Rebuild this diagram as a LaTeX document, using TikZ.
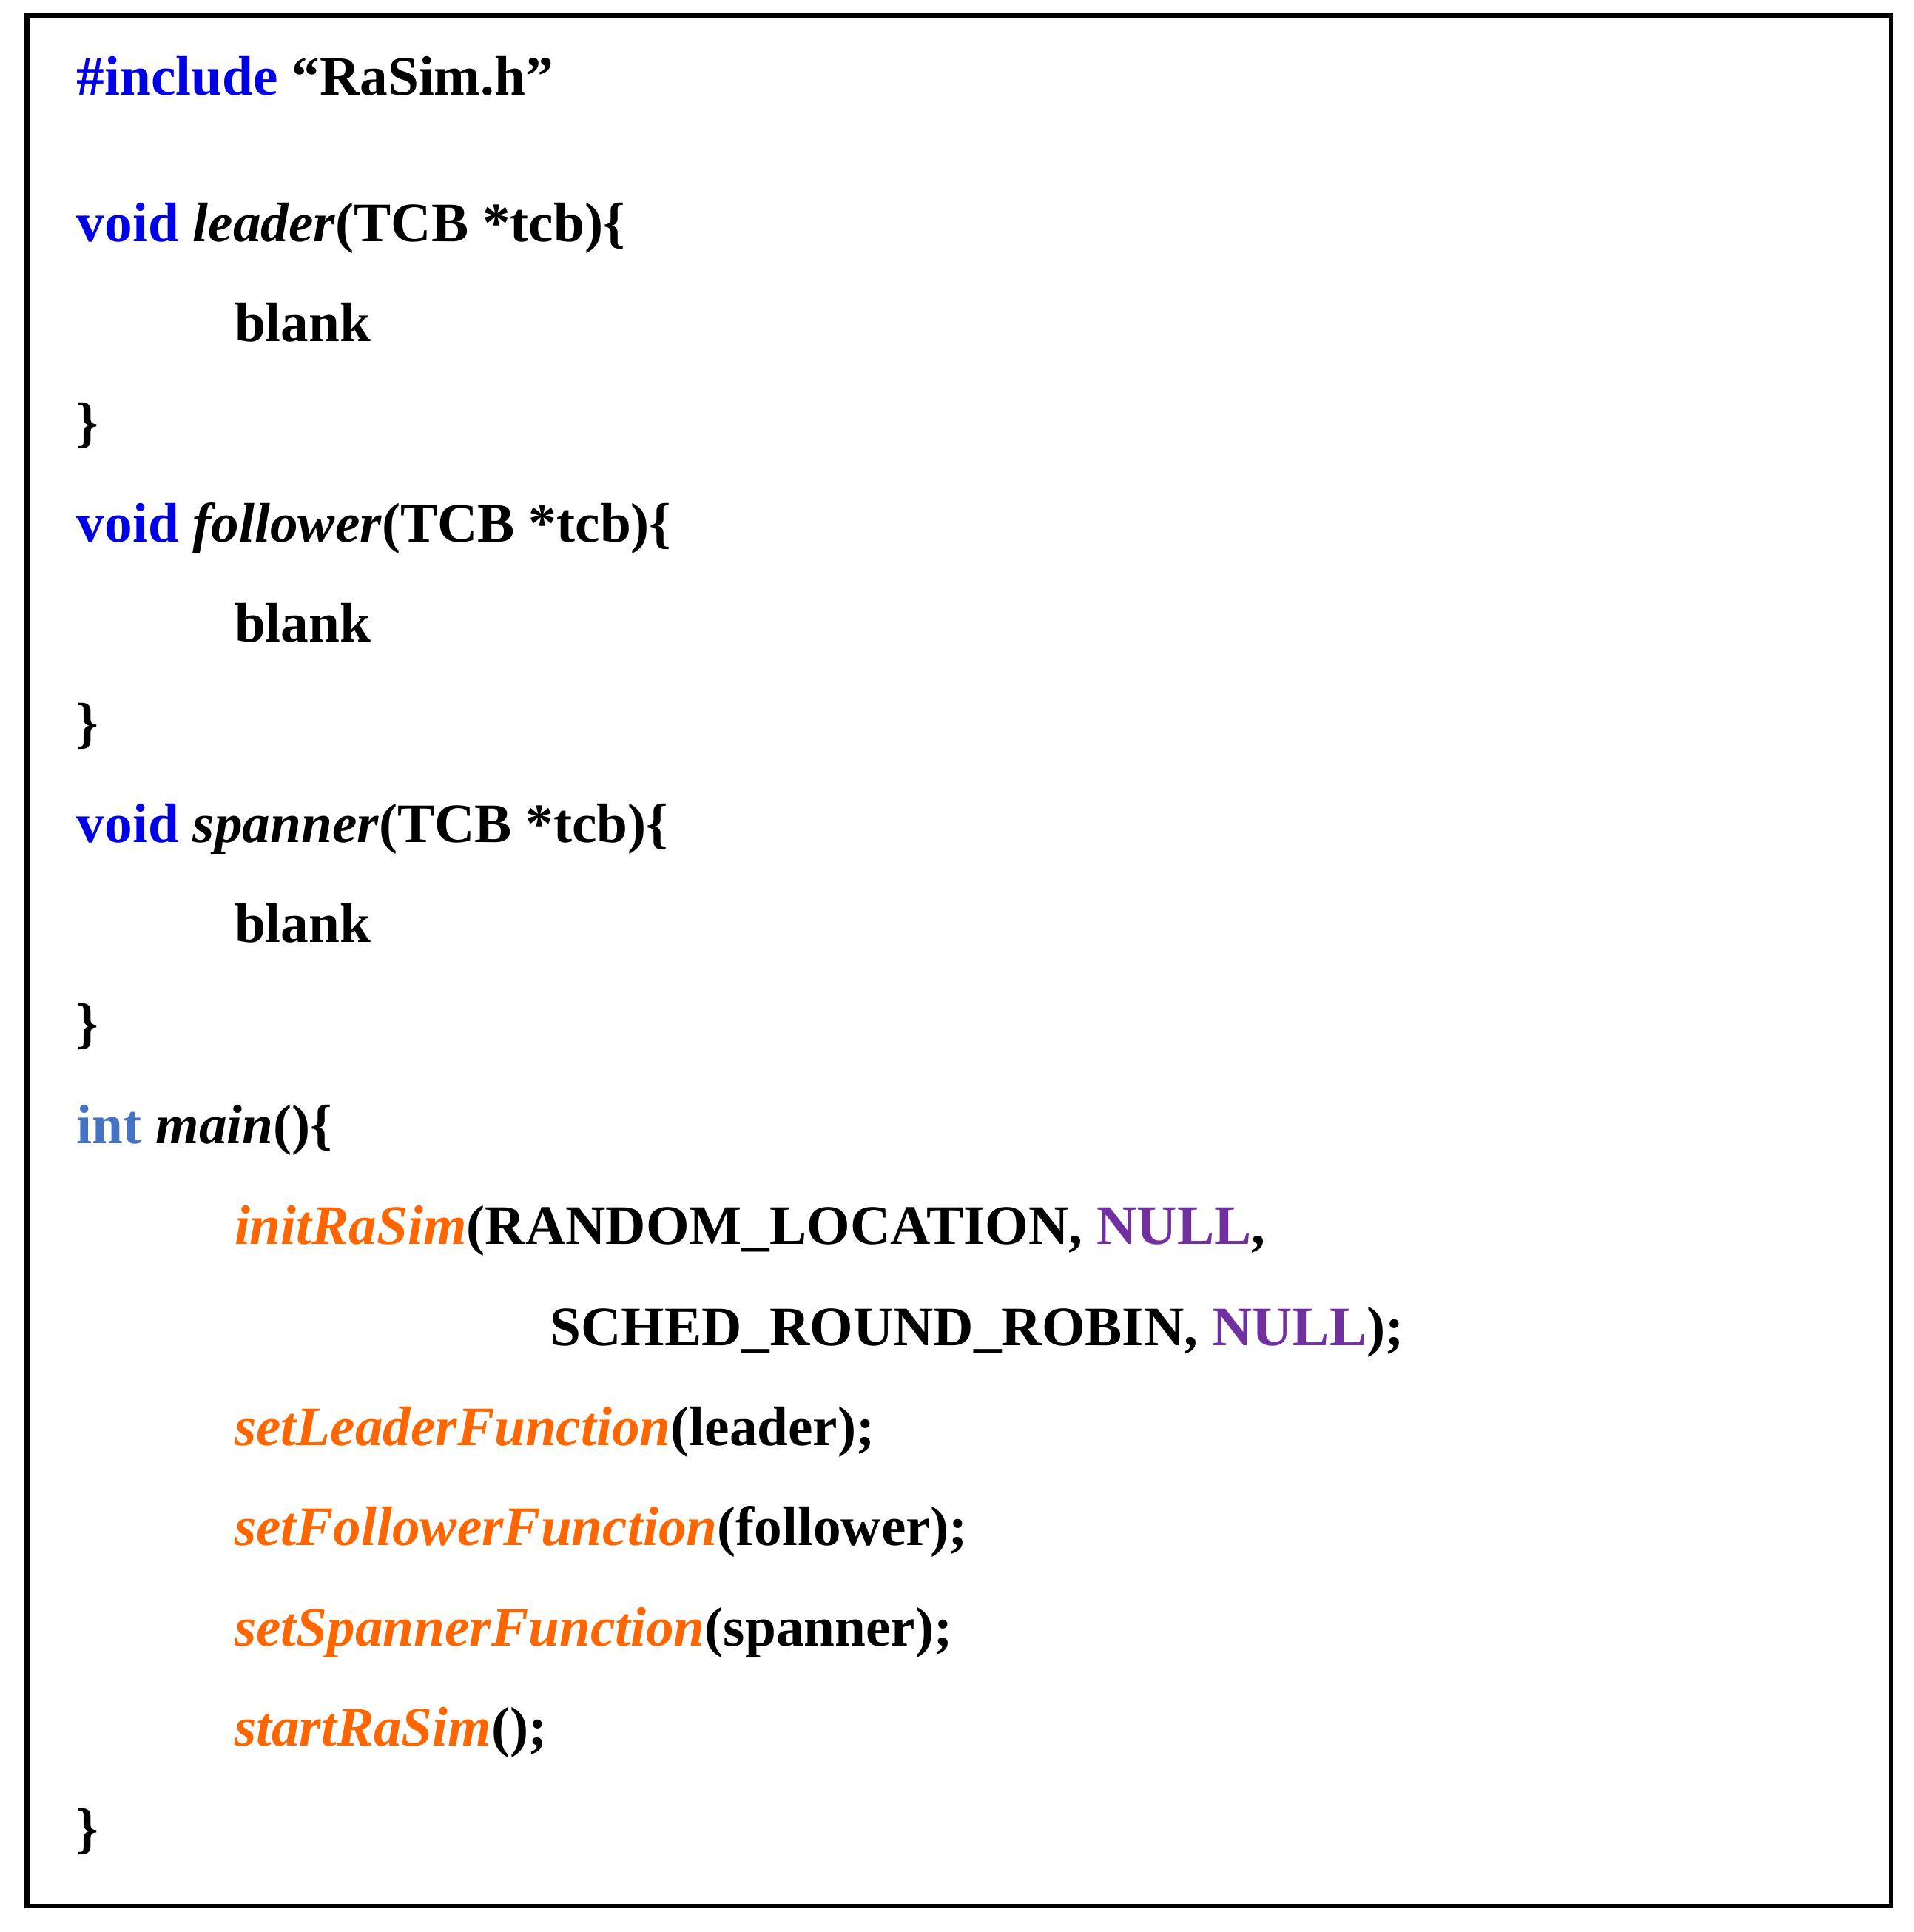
\documentclass[tikz,border=0pt]{standalone}
\usepackage{fontspec}
\setmainfont{Liberation Serif}
\definecolor{kw}{RGB}{0,0,230}
\definecolor{kint}{RGB}{68,114,196}
\definecolor{fn}{RGB}{255,102,0}
\definecolor{nul}{RGB}{112,48,160}
\begin{document}
\begin{tikzpicture}[x=0.5pt,y=-0.5pt,
  code/.style={anchor=base west,inner sep=0pt,font=\fontsize{22.6}{27}\selectfont\bfseries}]
\useasboundingbox (0,0) rectangle (1553,1568);
\draw[line width=1.9pt] (22,13) rectangle (1535,1547);
\node[code] (l1) at (62,77) {\textcolor{kw}{\#include} “RaSim.h”};
\node[code] (l2) at (62,196) {\textcolor{kw}{void} \textit{leader}(TCB *tcb)\{};
\node[code] (l3) at (190,277) {blank};
\node[code] (l4) at (62,358) {\}};
\node[code] (l5) at (62,440) {\textcolor{kw}{void} \textit{follower}(TCB *tcb)\{};
\node[code] (l6) at (190,521) {blank};
\node[code] (l7) at (62,602) {\}};
\node[code] (l8) at (62,684) {\textcolor{kw}{void} \textit{spanner}(TCB *tcb)\{};
\node[code] (l9) at (190,765) {blank};
\node[code] (l10) at (62,846) {\}};
\node[code] (l11) at (62,928) {\textcolor{kint}{int} \textit{main}()\{};
\node[code] (l12) at (190,1010) {\textcolor{fn}{\textit{initRaSim}}(RANDOM\_LOCATION, \textcolor{nul}{NULL},};
\node[code] (l13) at (446,1092) {SCHED\_ROUND\_ROBIN, \textcolor{nul}{NULL});};
\node[code] (l14) at (190,1173) {\textcolor{fn}{\textit{setLeaderFunction}}(leader);};
\node[code] (l15) at (190,1254) {\textcolor{fn}{\textit{setFollowerFunction}}(follower);};
\node[code] (l16) at (190,1336) {\textcolor{fn}{\textit{setSpannerFunction}}(spanner);};
\node[code] (l17) at (190,1417) {\textcolor{fn}{\textit{startRaSim}}();};
\node[code] (l18) at (62,1499) {\}};
\end{tikzpicture}
\end{document}
